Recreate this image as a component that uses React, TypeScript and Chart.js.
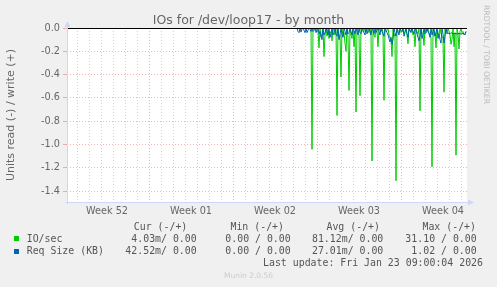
import React, { useEffect, useRef } from 'react';
import { Chart, registerables } from 'chart.js';

Chart.register(...registerables);

// Time axis in hours since Mon Dec 22 2025 00:00; one sample every 2 hours
const START_HOUR = 464;
const STEP_HOURS = 2;
const X_MIN = 4;
const X_MAX = 804;

// IO/sec (read, drawn negative)
const ioSec = [
  0, 0, 0, 0, 0, 0, 0, 0, 0, 0,
  0, 0, 0, 0, -0.01, -1.04, -0.02, 0, 0, 0,
  -0.03, -0.02, -0.17, 0, -0.08, -0.05, 0, -0.245, -0.06, 0,
  -0.07, 0, -0.09, -0.05, -0.03, -0.11, 0, -0.02, -0.06, 0,
  -0.75, 0, -0.08, -0.06, -0.42, 0, -0.07, -0.04, -0.13, -0.2,
  0, -0.08, -0.535, 0, -0.06, -0.09, 0, -0.16, -0.03, -0.72,
  0, -0.04, -0.06, -0.58, 0, -0.03, -0.02, 0, -0.03, -0.02,
  0, -0.02, -0.04, 0, -0.05, -1.14, 0, -0.06, -0.08, 0,
  -0.03, -0.16, 0, -0.02, -0.03, 0, -0.04, -0.62, 0, -0.03,
  -0.02, 0, -0.06, -0.08, -0.1, -0.245, 0, -0.07, -0.05, -1.31,
  0, -0.04, -0.03, 0, -0.04, -0.03, 0, -0.05, -0.03, 0,
  -0.06, -0.135, 0, -0.03, -0.02, 0, -0.06, -0.04, -0.16, 0,
  -0.03, -0.05, 0, -0.71, 0, -0.04, -0.05, -0.15, 0, -0.04,
  -0.03, 0, -0.04, -0.06, -0.08, -1.19, 0, -0.07, -0.04, -0.17,
  0, -0.04, -0.06, 0, -0.05, -0.07, -0.09, -0.55, 0, -0.04,
  -0.05, 0, -0.03, -0.06, -0.14, -0.1, 0, -0.16, -0.04, -1.09,
  0, -0.05, -0.18, -0.03, 0, -0.04, -0.03, -0.06, -0.05, -0.03,
];

// Req Size (KB) (read, drawn negative)
const reqSize = [
  0, -0.03, -0.04, 0, -0.035, -0.01, 0, -0.02, -0.04, 0,
  -0.04, -0.02, 0, -0.01, -0.03, 0, -0.03, -0.02, 0, -0.04,
  -0.02, 0, -0.05, -0.03, -0.07, -0.1, 0, -0.06, -0.04, 0,
  -0.03, -0.06, 0, -0.08, -0.05, 0, -0.06, -0.04, 0, -0.05,
  -0.07, 0, -0.1, -0.06, 0, -0.05, -0.08, 0, -0.03, -0.06,
  0, -0.05, -0.04, 0, -0.03, -0.06, 0, -0.02, -0.05, 0,
  -0.03, -0.06, 0, -0.04, -0.05, 0, -0.02, -0.04, -0.06, 0,
  -0.05, -0.02, 0, -0.03, -0.06, 0, -0.02, -0.05, 0, -0.04,
  -0.02, 0, -0.03, -0.06, 0, -0.03, -0.05, -0.07, 0, -0.02,
  -0.04, -0.06, -0.09, -0.12, -0.08, -0.14, -0.1, 0, -0.04, -0.07,
  0, -0.03, -0.06, 0, -0.02, -0.03, 0, -0.07, -0.04, 0,
  -0.05, -0.08, 0, -0.02, -0.04, 0, -0.03, -0.05, 0, -0.02,
  -0.05, -0.08, -0.11, -0.07, 0, -0.09, -0.06, 0, -0.05, -0.04,
  0, -0.03, -0.05, -0.08, 0, -0.06, -0.03, 0, -0.07, -0.04,
  0, -0.09, -0.05, -0.1, -0.13, 0, -0.05, -0.13, -0.07, 0,
  -0.045, -0.045, -0.045, -0.05, -0.04, -0.045, -0.05, -0.05, -0.045, -0.05,
  -0.05, -0.05, -0.045, -0.05, -0.05, -0.05, -0.045, -0.05, -0.06, -0.03,
];

const weekLabels = ['Week 52', 'Week 01', 'Week 02', 'Week 03', 'Week 04'];
const yTickValues = [0, -0.1, -0.2, -0.3, -0.4, -0.5, -0.6, -0.7, -0.8, -0.9, -1.0, -1.1, -1.2, -1.3, -1.4];
const Y_MIN = -1.492;
const Y_MAX = 0;

const legendNames = ['IO/sec', 'Req Size (KB)'];
const legendColors = ['#00CC00', '#0066B3'];
const legendHeaders = ['Cur (-/+)', 'Min (-/+)', 'Avg (-/+)', 'Max (-/+)'];
const curVals = ['4.03m/ 0.00', '42.52m/ 0.00'];
const minVals = ['0.00 / 0.00', '0.00 / 0.00'];
const avgVals = ['81.12m/ 0.00', '27.01m/ 0.00'];
const maxVals = ['31.10 / 0.00', '1.02 / 0.00'];

const GRID = 'rgba(160,160,160,0.45)';
const MGRID = 'rgba(220,90,90,0.45)';
const AXIS = '#CFD6F8';
const FONT = '#666666';

const toPoints = (vals: number[]) => vals.map((v, i) => ({ x: START_HOUR + i * STEP_HOURS, y: v }));

const muninPlugin = {
  id: 'muninDeco',
  beforeDraw(chart: any) {
    const { ctx, chartArea: a } = chart;
    ctx.save();
    ctx.fillStyle = '#ffffff';
    ctx.fillRect(a.left, a.top, a.right - a.left, a.bottom - a.top);
    ctx.restore();
  },
  afterDatasetsDraw(chart: any) {
    const { ctx, chartArea: a, scales } = chart;
    const y0 = Math.round(scales.y.getPixelForValue(0));
    ctx.save();
    ctx.fillStyle = '#000000';
    ctx.fillRect(a.left, y0, a.right - a.left, 1);
    // axes
    const xb = Math.round(a.bottom);
    const xl = Math.round(a.left);
    ctx.fillStyle = AXIS;
    ctx.fillRect(xl - 2, xb, a.right - a.left + 4, 1);
    ctx.fillRect(xl, a.top - 4, 1, a.bottom - a.top + 6);
    ctx.beginPath();
    ctx.moveTo(a.right + 7, xb + 0.5);
    ctx.lineTo(a.right + 1, xb - 2.5);
    ctx.lineTo(a.right + 1, xb + 3.5);
    ctx.closePath();
    ctx.fill();
    ctx.beginPath();
    ctx.moveTo(xl + 0.5, a.top - 7);
    ctx.lineTo(xl - 2.5, a.top - 1);
    ctx.lineTo(xl + 3.5, a.top - 1);
    ctx.closePath();
    ctx.fill();
    ctx.restore();
  },
};

function App() {
  const canvasRef = useRef<HTMLCanvasElement | null>(null);

  useEffect(() => {
    document.body.style.margin = '0';
    const canvas = canvasRef.current;
    if (!canvas) return;
    const chart = new Chart(canvas, {
      type: 'line',
      data: {
        datasets: [
          {
            label: 'Req Size (KB)',
            data: toPoints(reqSize),
            borderColor: '#0066B3',
            borderWidth: 1,
            pointRadius: 0,
            tension: 0,
            fill: false,
          },
          {
            label: 'IO/sec',
            data: toPoints(ioSec),
            borderColor: '#00CC00',
            borderWidth: 1,
            pointRadius: 0,
            tension: 0,
            fill: false,
          },
        ],
      },
      options: {
        responsive: false,
        devicePixelRatio: 1,
        animation: false,
        events: [],
        layout: { padding: { top: 28, left: 0, right: 30, bottom: 0 } },
        plugins: { legend: { display: false }, tooltip: { enabled: false }, title: { display: false } },
        scales: {
          x: {
            type: 'linear',
            min: X_MIN,
            max: X_MAX,
            afterBuildTicks: (s: any) => {
              const t = [];
              for (let h = 12; h <= X_MAX; h += 12) t.push({ value: h });
              s.ticks = t;
            },
            afterFit: (s: any) => {
              s.height = 85;
            },
            ticks: {
              autoSkip: false,
              maxRotation: 0,
              minRotation: 0,
              padding: 4,
              color: FONT,
              font: { family: 'DejaVu Sans', size: 9.7 },
              callback: (v: any) => {
                const k = (Number(v) - 84) / 168;
                return Number.isInteger(k) && k >= 0 && k < weekLabels.length ? weekLabels[k] : '';
              },
            },
            grid: {
              drawTicks: false,
              lineWidth: 1,
              color: (c: any) => {
                const v = c.tick ? c.tick.value : 0;
                if (v % 168 === 0) return MGRID;
                if (v % 24 === 0) return GRID;
                return 'rgba(0,0,0,0)';
              },
            },
            border: { display: false, dash: [1, 2] },
          },
          y: {
            type: 'linear',
            min: Y_MIN,
            max: Y_MAX,
            afterBuildTicks: (s: any) => {
              s.ticks = yTickValues.map((v) => ({ value: v }));
            },
            afterFit: (s: any) => {
              s.width = 67;
            },
            ticks: {
              padding: 3,
              color: FONT,
              font: { family: 'DejaVu Sans', size: 9.7 },
              callback: (v: any) => {
                const n = Math.round(Number(v) * 10);
                return n % 2 === 0 ? (Number(v) === 0 ? '0.0' : Number(v).toFixed(1)) : '';
              },
            },
            grid: {
              drawTicks: true,
              tickLength: 4,
              lineWidth: 1,
              color: (c: any) => {
                const v = c.tick ? c.tick.value : 0;
                return Math.round(v * 10) % 2 === 0 ? MGRID : GRID;
              },
            },
            border: { display: false, dash: [1, 2] },
            title: {
              display: true,
              text: 'Units read (-) / write (+)',
              color: FONT,
              font: { family: 'DejaVu Sans', size: 11 },
              padding: { top: 5, bottom: 0 },
            },
          },
        },
      },
      plugins: [muninPlugin],
    } as any);
    return () => chart.destroy();
  }, []);

  const mono: React.CSSProperties = {
    position: 'absolute',
    fontFamily: '"DejaVu Sans Mono", monospace',
    fontSize: '9.9px',
    lineHeight: '12px',
    color: '#555',
    whiteSpace: 'pre',
  };
  const valueRights = [196.7, 290.7, 383.3, 476.7];
  const headerRights = [187.3, 284, 380, 476];
  const rowTops = [232.9, 245];
  const cols = [curVals, minVals, avgVals, maxVals];

  return (
    <div style={{ position: 'fixed', left: 0, top: 0, width: 497, height: 287, background: '#f0f0f0', overflow: 'hidden' }}>
      <canvas ref={canvasRef} width={497} height={287} style={{ position: 'absolute', left: 0, top: 0 }} />
      <div
        style={{
          position: 'absolute',
          left: 0,
          width: 497,
          top: 12,
          textAlign: 'center',
          fontFamily: '"DejaVu Sans", sans-serif',
          fontSize: '12.5px',
          lineHeight: '15px',
          color: FONT,
        }}
      >
        IOs for /dev/loop17 - by month
      </div>
      <div
        style={{
          position: 'absolute',
          left: 481.5,
          top: 5,
          writingMode: 'vertical-rl',
          fontFamily: '"DejaVu Sans", sans-serif',
          fontSize: '7.7px',
          lineHeight: '9px',
          color: '#bbbbbb',
          whiteSpace: 'pre',
        }}
      >
        RRDTOOL / TOBI OETIKER
      </div>
      {legendHeaders.map((h, i) => (
        <div key={'h' + i} style={{ ...mono, top: 221, right: 497 - headerRights[i] }}>
          {h}
        </div>
      ))}
      {legendNames.map((n, r) => (
        <React.Fragment key={'r' + r}>
          <div style={{ position: 'absolute', left: 14, top: rowTops[r] + 3.5, width: 5, height: 5, background: legendColors[r] }} />
          <div style={{ ...mono, top: rowTops[r], left: 26.7 }}>{n}</div>
          {cols.map((c, i) => (
            <div key={'c' + i} style={{ ...mono, top: rowTops[r], right: 497 - valueRights[i] }}>
              {c[r]}
            </div>
          ))}
        </React.Fragment>
      ))}
      <div style={{ ...mono, top: 256.9, right: 497 - 483 }}>Last update: Fri Jan 23 09:00:04 2026</div>
      <div
        style={{
          position: 'absolute',
          left: 0,
          width: 497,
          top: 271.2,
          textAlign: 'center',
          fontFamily: '"DejaVu Sans", sans-serif',
          fontSize: '7.5px',
          lineHeight: '9px',
          color: '#cccccc',
        }}
      >
        Munin 2.0.56
      </div>
    </div>
  );
}

export default App;
